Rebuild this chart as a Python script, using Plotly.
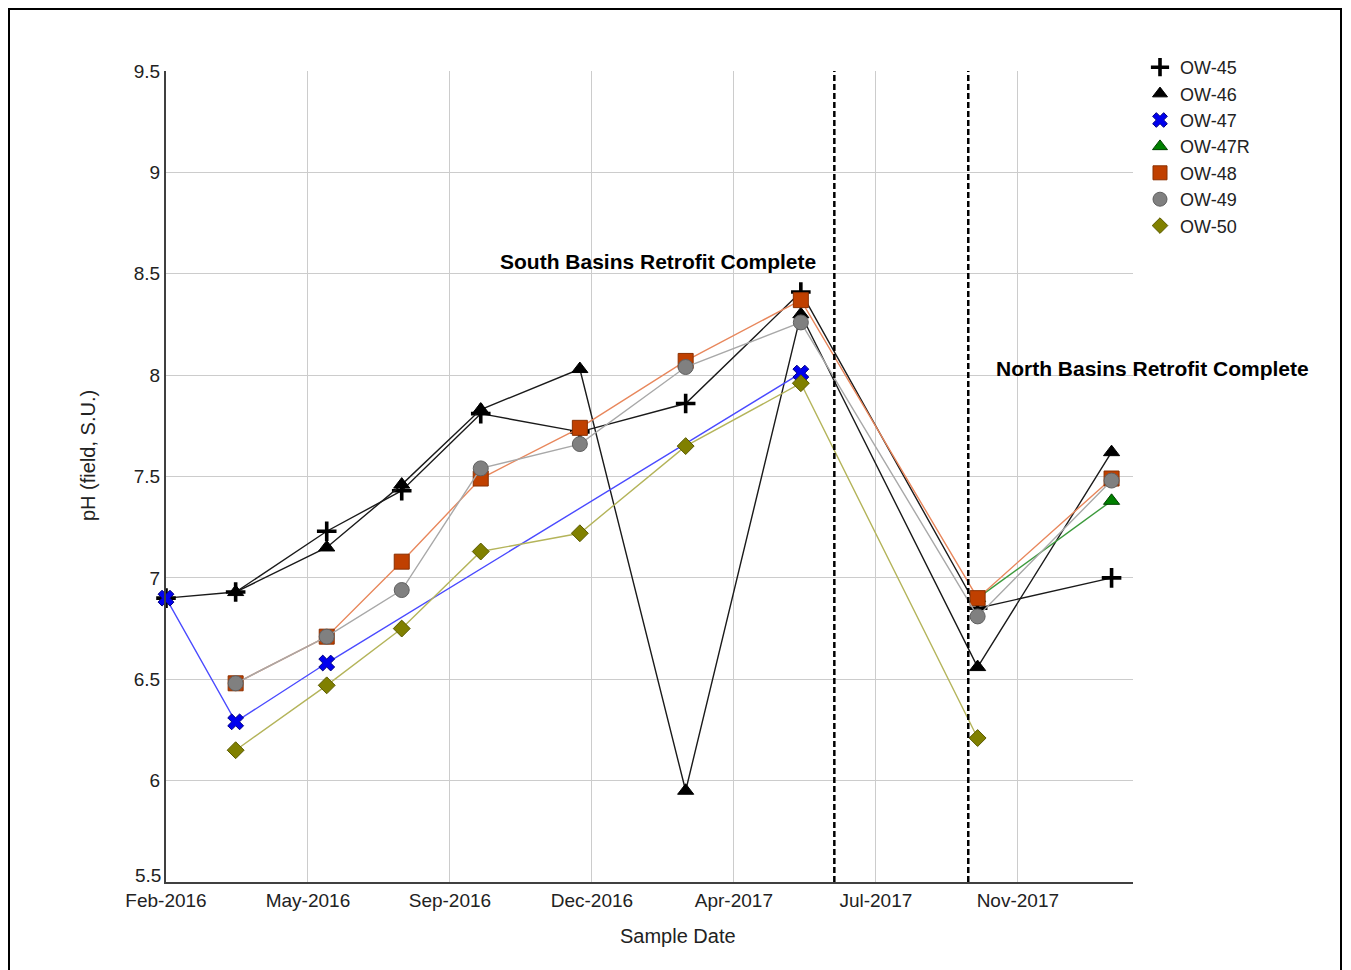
import plotly.graph_objects as go
import pandas as pd

# ---------------- data ----------------
sample_dates = ["2016-02-15", "2016-04-07", "2016-06-14", "2016-08-09", "2016-10-07",
                "2016-12-20", "2017-03-09", "2017-06-03", "2017-10-13", "2018-01-21"]

ow45 = [6.90, 6.93, 7.23, 7.43, 7.81, 7.72, 7.86, 8.41, 6.85, 7.00]
ow46 = [None, 6.93, 7.15, 7.46, 7.83, 8.03, 5.95, 8.30, 6.56, 7.62]
ow47 = [6.90, 6.29, 6.58, None, None, None, None, 8.01, None, None]
ow47r = [None, None, None, None, None, None, None, None, 6.90, 7.38]
ow48 = [None, 6.48, 6.71, 7.08, 7.49, 7.74, 8.07, 8.37, 6.90, 7.49]
ow49 = [None, 6.48, 6.71, 6.94, 7.54, 7.66, 8.04, 8.26, 6.81, 7.48]
ow50 = [None, 6.15, 6.47, 6.75, 7.13, 7.22, 7.65, 7.96, 6.21, None]

series_names = ["OW-45", "OW-46", "OW-47", "OW-47R", "OW-48", "OW-49", "OW-50"]
series_values = [ow45, ow46, ow47, ow47r, ow48, ow49, ow50]

retrofit_dates = ["2017-06-28", "2017-10-06"]
retrofit_labels = ["South Basins Retrofit Complete", "North Basins Retrofit Complete"]

x_tick_labels = ["Feb-2016", "May-2016", "Sep-2016", "Dec-2016", "Apr-2017", "Jul-2017", "Nov-2017"]
y_tick_vals = [5.5, 6, 6.5, 7, 7.5, 8, 8.5, 9, 9.5]
y_tick_labels = ["5.5", "6", "6.5", "7", "7.5", "8", "8.5", "9", "9.5"]

# ---------------- styles ----------------
styles = {
    "OW-45": dict(line="#1a1a1a", symbol="cross-thin", size=14, fill="#000000", edge="#000000", ew=3.6),
    "OW-46": dict(line="#1a1a1a", symbol="triangle-up", size=14, fill="#000000", edge="#000000", ew=1),
    "OW-47": dict(line="#4a4aff", symbol="x", size=14, fill="#0000ee", edge="#000080", ew=1),
    "OW-47R": dict(line="#3c9a3c", symbol="triangle-up", size=14, fill="#008000", edge="#004000", ew=1),
    "OW-48": dict(line="#e8875c", symbol="square", size=15, fill="#c04000", edge="#8a3000", ew=1),
    "OW-49": dict(line="#a8a8a8", symbol="circle", size=15, fill="#808080", edge="#606060", ew=1),
    "OW-50": dict(line="#b4b45a", symbol="diamond", size=13, fill="#808000", edge="#5a5a00", ew=1),
}

FONT = "Liberation Sans, Arial, sans-serif"

fig = go.Figure()

for name, vals in zip(series_names, series_values):
    st = styles[name]
    xs = [d for d, v in zip(sample_dates, vals) if v is not None]
    ys = [v for v in vals if v is not None]
    fig.add_trace(go.Scatter(
        x=xs, y=ys, mode="lines+markers", name=name, showlegend=False,
        line=dict(color=st["line"], width=1.4),
        marker=dict(symbol=st["symbol"], size=st["size"], color=st["fill"],
                    line=dict(color=st["edge"], width=st["ew"])),
        cliponaxis=False,
    ))

# legend entries (markers only)
for name in series_names:
    st = styles[name]
    fig.add_trace(go.Scatter(
        x=[None], y=[None], mode="markers", name=name, showlegend=True,
        marker=dict(symbol=st["symbol"], size=st["size"] - 1, color=st["fill"],
                    line=dict(color=st["edge"], width=st["ew"])),
    ))

# axis scale
start = pd.Timestamp("2016-02-15")
tick_vals = [start + pd.Timedelta(days=106 * k) for k in range(len(x_tick_labels))]
x_range = [start, pd.Timestamp("2018-02-06")]

# page offset: the figure div sits 8px inside the page body
OFF = 8
W, H = 1335, 962
L, T = 166 - OFF, 71 - OFF
R = W - (1133 - OFF)
B = H - (882 - OFF)
pw, ph = W - L - R, H - T - B


def px(xs):
    """screen x pixel -> paper coordinate"""
    return (xs - OFF - L) / pw


def py(ys):
    """screen y pixel -> paper coordinate"""
    return (H - B - (ys - OFF)) / ph


shapes = []
for d in retrofit_dates:
    shapes.append(dict(type="line", xref="x", yref="paper", x0=d, x1=d, y0=0, y1=1,
                       line=dict(color="#000000", width=2.5, dash="6px,3px")))

shapes.append(dict(type="rect", xref="paper", yref="paper",
                   x0=px(9), x1=px(1341), y0=py(978), y1=py(9),
                   line=dict(color="#000000", width=2), layer="below"))

# lowest y label drawn slightly raised, as in the reference
ytext = list(y_tick_labels)
ytext[0] = ""

annotations = [
    dict(x=retrofit_dates[0], y=8.56, xref="x", yref="y", text=retrofit_labels[0],
         showarrow=False, xanchor="right", yanchor="middle", xshift=-16,
         font=dict(family=FONT, size=21, color="#000000", weight="bold")),
    dict(x=retrofit_dates[1], y=8.035, xref="x", yref="y", text=retrofit_labels[1],
         showarrow=False, xanchor="left", yanchor="middle", xshift=26,
         font=dict(family=FONT, size=21, color="#000000", weight="bold")),
    dict(x=px(678), y=py(936), xref="paper", yref="paper", text="Sample Date",
         showarrow=False, xanchor="center", yanchor="middle",
         font=dict(family=FONT, size=20, color="#222222")),
    dict(x=px(88), y=py(456), xref="paper", yref="paper", text="pH (field, S.U.)",
         showarrow=False, xanchor="center", yanchor="middle", textangle=-90,
         font=dict(family=FONT, size=20, color="#222222")),
    dict(x=px(163), y=y_tick_vals[0], xref="paper", yref="y", text=y_tick_labels[0],
         showarrow=False, xanchor="right", yanchor="bottom", yshift=-6,
         font=dict(family=FONT, size=19, color="#222222")),
]

fig.update_layout(
    width=W, height=H,
    margin=dict(l=L, r=R, t=T, b=B, autoexpand=False),
    paper_bgcolor="#ffffff", plot_bgcolor="#ffffff",
    font=dict(family=FONT, size=19, color="#222222"),
    shapes=shapes, annotations=annotations,
    legend=dict(x=px(1140), y=py(49), xanchor="left", yanchor="top",
                font=dict(family=FONT, size=18, color="#222222"),
                bgcolor="rgba(0,0,0,0)", itemwidth=30, tracegroupgap=0),
    xaxis=dict(type="date", range=x_range, tickvals=tick_vals, ticktext=x_tick_labels,
               showgrid=True, gridcolor="#cccccc", gridwidth=1,
               showline=True, linecolor="#404040", linewidth=2,
               ticks="", zeroline=False, tickfont=dict(size=19)),
    yaxis=dict(range=[5.5, 9.5], tickvals=y_tick_vals, ticktext=ytext,
               showgrid=True, gridcolor="#cccccc", gridwidth=1,
               showline=True, linecolor="#404040", linewidth=2,
               ticks="", zeroline=False, tickfont=dict(size=19)),
)

fig.write_html("out.html")
